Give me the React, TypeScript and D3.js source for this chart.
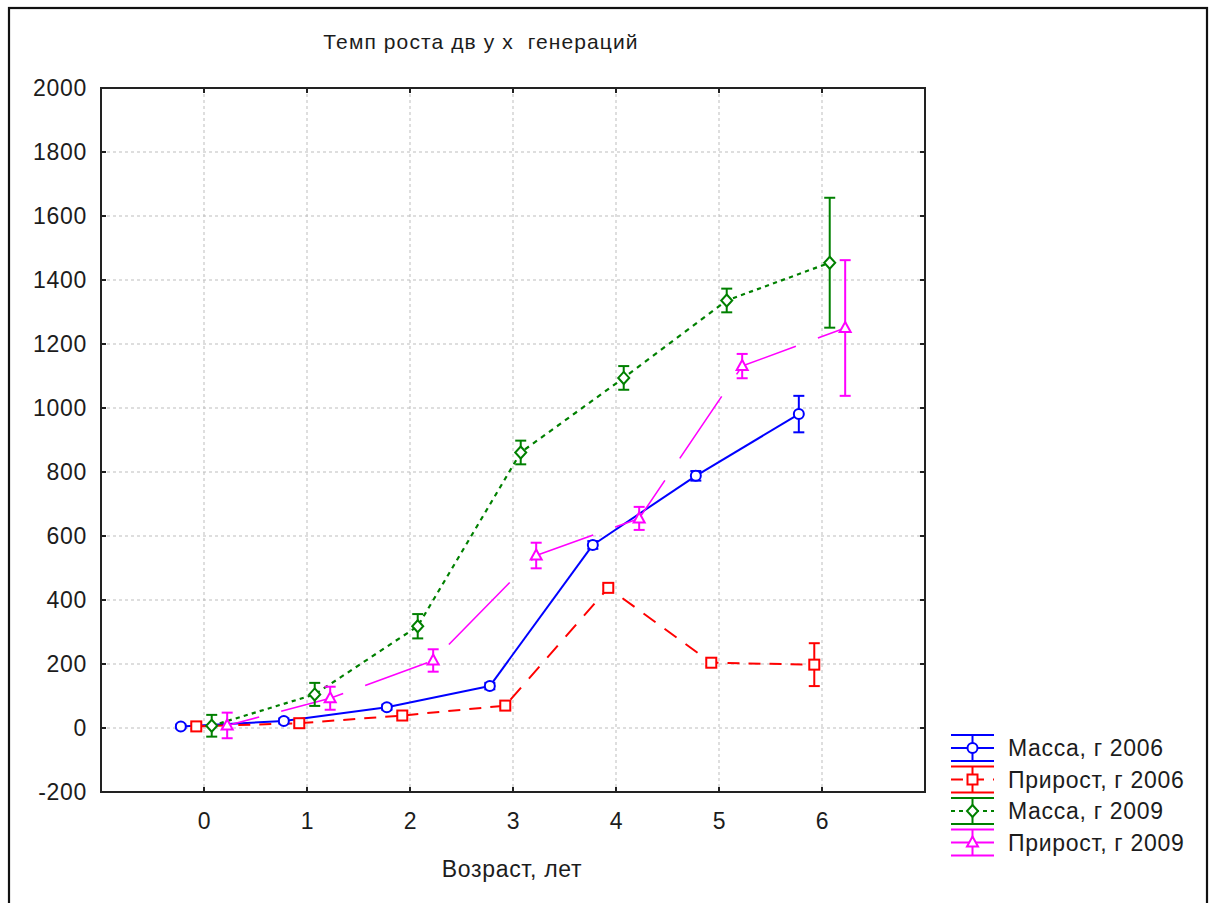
import React from "react";
import * as d3 from "d3";

// Ages (years) on the horizontal axis
const AGES = [0, 1, 2, 3, 4, 5, 6];

// Mean values with their error half-widths, per series
const MASS_2006 = [5, 22, 65, 131, 572, 788, 981];
const MASS_2006_ERR = [6, 8, 8, 10, 12, 15, 57];
const GAIN_2006 = [5, 15, 39, 70, 438, 204, 198];
const GAIN_2006_ERR = [8, 8, 8, 8, 10, 10, 67];
const MASS_2009 = [7, 105, 318, 861, 1094, 1336, 1454];
const MASS_2009_ERR = [34, 36, 38, 37, 37, 37, 203];
const GAIN_2009 = [8, 93, 211, 539, 655, 1131, 1250];
const GAIN_2009_ERR = [40, 36, 35, 40, 36, 38, 212];

const SERIES_NAMES = ["Масса, г 2006", "Прирост, г 2006", "Масса, г 2009", "Прирост, г 2009"];
const Y_TICKS = [-200, 0, 200, 400, 600, 800, 1000, 1200, 1400, 1600, 1800, 2000];
const X_TICKS = [0, 1, 2, 3, 4, 5, 6];

const TITLE = "Темп роста дв у х  генераций";
const X_TITLE = "Возраст, лет";

type Marker = "circle" | "square" | "diamond" | "triangle";
type SeriesDef = {
  name: string;
  values: number[];
  errors: number[];
  color: string;
  shift: number;
  marker: Marker;
  pattern: number[] | null;
  phase: number;
  width: number;
};

const SERIES: SeriesDef[] = [
  { name: SERIES_NAMES[0], values: MASS_2006, errors: MASS_2006_ERR, color: "#0000ff", shift: -0.225, marker: "circle", pattern: null, phase: 0, width: 2 },
  { name: SERIES_NAMES[1], values: GAIN_2006, errors: GAIN_2006_ERR, color: "#ff0000", shift: -0.075, marker: "square", pattern: [12, 9], phase: 0, width: 2 },
  { name: SERIES_NAMES[2], values: MASS_2009, errors: MASS_2009_ERR, color: "#008000", shift: 0.075, marker: "diamond", pattern: [4, 4], phase: 0, width: 2.2 },
  { name: SERIES_NAMES[3], values: GAIN_2009, errors: GAIN_2009_ERR, color: "#ff00ff", shift: 0.225, marker: "triangle", pattern: [62, 22], phase: 30, width: 1.6 },
];

const W = 1213;
const H = 903;
const PLOT = { left: 101, top: 88, right: 925, bottom: 792 };
const FONT = "'Liberation Sans', Arial, sans-serif";
const TEXT = "#1c1c1c";
const LABEL_SIZE = 23;
const LABEL_SPACING = 0.7;

const x = d3.scaleLinear().domain([-1, 7]).range([PLOT.left, PLOT.right]);
const y = d3.scaleLinear().domain([-200, 2000]).range([PLOT.bottom, PLOT.top]);

// Dash pattern measured in steps along the dominant axis of each segment,
// carried across segment joints so the rhythm continues through the polyline.
function patternedSegments(pts: [number, number][], pattern: number[] | null, phase: number) {
  const total = pattern ? pattern.reduce((a, b) => a + b, 0) : 0;
  let s = phase;
  const out: { x1: number; y1: number; x2: number; y2: number; dash?: string; offset: number }[] = [];
  for (let i = 0; i < pts.length - 1; i++) {
    const [x1, y1] = pts[i];
    const [x2, y2] = pts[i + 1];
    const dx = x2 - x1;
    const dy = y2 - y1;
    const len = Math.hypot(dx, dy);
    const major = Math.max(Math.abs(dx), Math.abs(dy)) || 1;
    const k = len / major;
    out.push({
      x1, y1, x2, y2,
      dash: pattern ? pattern.map((p) => (p * k).toFixed(2)).join(" ") : undefined,
      offset: pattern ? (s % total) * k : 0,
    });
    s += major;
  }
  return out;
}

function MarkerShape({ kind, cx, cy, color }: { kind: Marker; cx: number; cy: number; color: string }) {
  const common = { fill: "#fff", stroke: color, strokeWidth: 2 };
  if (kind === "circle") return <circle cx={cx} cy={cy} r={5} {...common} />;
  if (kind === "square") return <rect x={cx - 5} y={cy - 5} width={10} height={10} {...common} />;
  if (kind === "diamond") {
    const p = d3.path();
    p.moveTo(cx, cy - 6);
    p.lineTo(cx + 5.5, cy);
    p.lineTo(cx, cy + 6);
    p.lineTo(cx - 5.5, cy);
    p.closePath();
    return <path d={p.toString()} {...common} />;
  }
  const p = d3.path();
  p.moveTo(cx, cy - 6);
  p.lineTo(cx + 5.5, cy + 4);
  p.lineTo(cx - 5.5, cy + 4);
  p.closePath();
  return <path d={p.toString()} {...common} />;
}

export default function App() {
  const legendX0 = 951;
  const legendX1 = 994;
  const legendCx = (legendX0 + legendX1) / 2;
  const legendBase = [756, 787.5, 819, 850.5];

  return (
    <svg
      width={W}
      height={H}
      viewBox={`0 0 ${W} ${H}`}
      style={{ position: "absolute", left: 0, top: 0, background: "#fff" }}
      fontFamily={FONT}
    >
      {/* outer frame */}
      <rect x={9} y={8} width={1198} height={910} fill="none" stroke="#111" strokeWidth={2.2} />

      {/* grid */}
      <g stroke="#bdbdbd" strokeWidth={1} strokeDasharray="3 3">
        {X_TICKS.map((t) => (
          <line key={`gx${t}`} x1={x(t)} x2={x(t)} y1={PLOT.top} y2={PLOT.bottom} />
        ))}
        {Y_TICKS.filter((t) => t > -200 && t < 2000).map((t) => (
          <line key={`gy${t}`} x1={PLOT.left} x2={PLOT.right} y1={y(t)} y2={y(t)} />
        ))}
      </g>

      {/* series lines */}
      {SERIES.map((s) => {
        const pts = AGES.map((a, i) => [x(a + s.shift), y(s.values[i])] as [number, number]);
        return (
          <g key={`l-${s.name}`} stroke={s.color} strokeWidth={s.width} fill="none">
            {patternedSegments(pts, s.pattern, s.phase).map((g, i) => (
              <line
                key={i}
                x1={g.x1}
                y1={g.y1}
                x2={g.x2}
                y2={g.y2}
                strokeDasharray={g.dash}
                strokeDashoffset={g.offset}
              />
            ))}
          </g>
        );
      })}

      {/* error bars */}
      {SERIES.map((s) => (
        <g key={`e-${s.name}`} stroke={s.color} strokeWidth={2}>
          {AGES.map((a, i) => {
            const cx = x(a + s.shift);
            const top = y(s.values[i] + s.errors[i]);
            const bot = y(s.values[i] - s.errors[i]);
            return (
              <g key={i}>
                <line x1={cx} x2={cx} y1={top} y2={bot} />
                <line x1={cx - 5.5} x2={cx + 5.5} y1={top} y2={top} />
                <line x1={cx - 5.5} x2={cx + 5.5} y1={bot} y2={bot} />
              </g>
            );
          })}
        </g>
      ))}

      {/* markers */}
      {SERIES.map((s) => (
        <g key={`m-${s.name}`}>
          {AGES.map((a, i) => (
            <MarkerShape key={i} kind={s.marker} cx={x(a + s.shift)} cy={y(s.values[i])} color={s.color} />
          ))}
        </g>
      ))}

      {/* plot frame and inward ticks */}
      <rect
        x={PLOT.left}
        y={PLOT.top}
        width={PLOT.right - PLOT.left}
        height={PLOT.bottom - PLOT.top}
        fill="none"
        stroke="#222"
        strokeWidth={2}
      />
      <g stroke="#222" strokeWidth={2}>
        {X_TICKS.map((t) => (
          <g key={`tx${t}`}>
            <line x1={x(t)} x2={x(t)} y1={PLOT.bottom} y2={PLOT.bottom - 5} />
            <line x1={x(t)} x2={x(t)} y1={PLOT.top} y2={PLOT.top + 5} />
          </g>
        ))}
        {Y_TICKS.map((t) => (
          <g key={`ty${t}`}>
            <line x1={PLOT.left} x2={PLOT.left + 5} y1={y(t)} y2={y(t)} />
            <line x1={PLOT.right} x2={PLOT.right - 5} y1={y(t)} y2={y(t)} />
          </g>
        ))}
      </g>

      {/* tick labels */}
      <g fill={TEXT} fontSize={LABEL_SIZE} letterSpacing={LABEL_SPACING}>
        {Y_TICKS.map((t) => (
          <text key={`ly${t}`} x={87} y={y(t) + 8} textAnchor="end">
            {t}
          </text>
        ))}
        {X_TICKS.map((t) => (
          <text key={`lx${t}`} x={x(t) + 0.5} y={829} textAnchor="middle">
            {t}
          </text>
        ))}
      </g>

      {/* titles */}
      <text
        x={481}
        y={49}
        textAnchor="middle"
        fontSize={21}
        letterSpacing={1.1}
        fill={TEXT}
        style={{ whiteSpace: "pre" }}
      >
        {TITLE}
      </text>
      <text x={512} y={877} textAnchor="middle" fontSize={LABEL_SIZE} letterSpacing={LABEL_SPACING} fill={TEXT}>
        {X_TITLE}
      </text>

      {/* legend */}
      {SERIES.map((s, i) => {
        const cy = legendBase[i] - 8;
        const top = cy - 13;
        const bot = cy + 13;
        return (
          <g key={`lg-${s.name}`}>
            <g stroke={s.color} strokeWidth={2}>
              <line x1={legendX0} x2={legendX1} y1={top} y2={top} />
              <line x1={legendX0} x2={legendX1} y1={bot} y2={bot} />
              <line x1={legendCx} x2={legendCx} y1={top} y2={bot} />
              <line
                x1={legendX0}
                x2={legendX1}
                y1={cy}
                y2={cy}
                strokeDasharray={s.pattern ? (s.pattern[0] > 20 ? undefined : s.pattern.join(" ")) : undefined}
              />
            </g>
            <MarkerShape kind={s.marker} cx={legendCx} cy={cy} color={s.color} />
            <text x={1008} y={legendBase[i]} fontSize={LABEL_SIZE} letterSpacing={LABEL_SPACING} fill={TEXT}>
              {s.name}
            </text>
          </g>
        );
      })}
    </svg>
  );
}
